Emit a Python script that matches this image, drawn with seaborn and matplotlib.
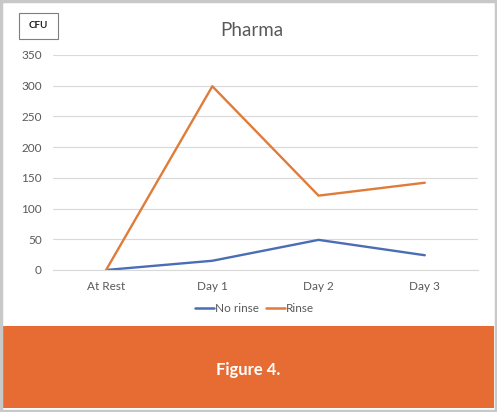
import pandas as pd
import matplotlib
matplotlib.use('Agg')
import matplotlib.pyplot as plt
from matplotlib.patches import Rectangle
import seaborn as sns

# data
days = ['At Rest', 'Day 1', 'Day 2', 'Day 3']
no_rinse = [0, 15, 49, 24]
rinse = [0, 299, 121, 142]
series_names = ['No rinse', 'Rinse']
y_ticks = [0, 50, 100, 150, 200, 250, 300, 350]

df = pd.DataFrame({
    'day': days * 2,
    'CFU': no_rinse + rinse,
    'series': [series_names[0]] * len(days) + [series_names[1]] * len(days),
})

sns.set_style('white')
plt.rcParams['font.family'] = ['Lato', 'DejaVu Sans']

fig = plt.figure(figsize=(4.97, 4.12), dpi=100)
ax = fig.add_axes([0.1066, 0.3447, 0.855, 0.522])

sns.lineplot(data=df, x='day', y='CFU', hue='series', sort=False,
             palette={'No rinse': '#4A6DB5', 'Rinse': '#E07B39'},
             linewidth=1.7, ax=ax, legend=False)

ax.set_xlim(-0.5, 3.5)
ax.set_ylim(0, 350)
ax.set_yticks(y_ticks)
ax.yaxis.grid(True, color='#d9d9d9', linewidth=0.8)
ax.set_axisbelow(True)
for s in ['top', 'right', 'left']:
    ax.spines[s].set_visible(False)
ax.spines['bottom'].set_color('#d9d9d9')
ax.spines['bottom'].set_linewidth(0.8)
ax.tick_params(axis='both', length=0, labelsize=8.5, labelcolor='#595959', pad=8)
ax.set_xlabel('')
ax.set_ylabel('')

# title
fig.text(0.507, 0.925, 'Pharma', ha='center', va='center', fontsize=13.5, color='#595959')

# legend
handles = [plt.Line2D([], [], color='#4A6DB5', lw=1.8), plt.Line2D([], [], color='#E07B39', lw=1.8)]
fig.legend(handles, series_names, loc='center', bbox_to_anchor=(0.512, 0.252), ncol=2,
           frameon=False, fontsize=8.5, labelcolor='#595959', handlelength=1.6,
           handletextpad=0.1, columnspacing=0.6)

# CFU box
fig.patches.append(Rectangle((19 / 497, 1 - 39 / 412), 39 / 497, 26 / 412,
                             transform=fig.transFigure, facecolor='white',
                             edgecolor='#7f7f7f', linewidth=0.8))
fig.text(38.5 / 497, 1 - 25.5 / 412, 'CFU', ha='center', va='center', fontsize=7,
         color='#222222', fontweight='bold')

# orange caption band
fig.patches.append(Rectangle((3 / 497, 4 / 412), 491 / 497, 82 / 412,
                             transform=fig.transFigure, facecolor='#E66C33',
                             edgecolor='none', zorder=0))
fig.text(0.5, 1 - 370 / 412, 'Figure 4.', ha='center', va='center', fontsize=12,
         color='white', fontweight='bold')

# outer border
fig.patches.append(Rectangle((0.002, 0.002), 0.996, 0.996, transform=fig.transFigure,
                             facecolor='none', edgecolor='#c8c8c8', linewidth=2.5))

fig.savefig('out.png', dpi=100)
